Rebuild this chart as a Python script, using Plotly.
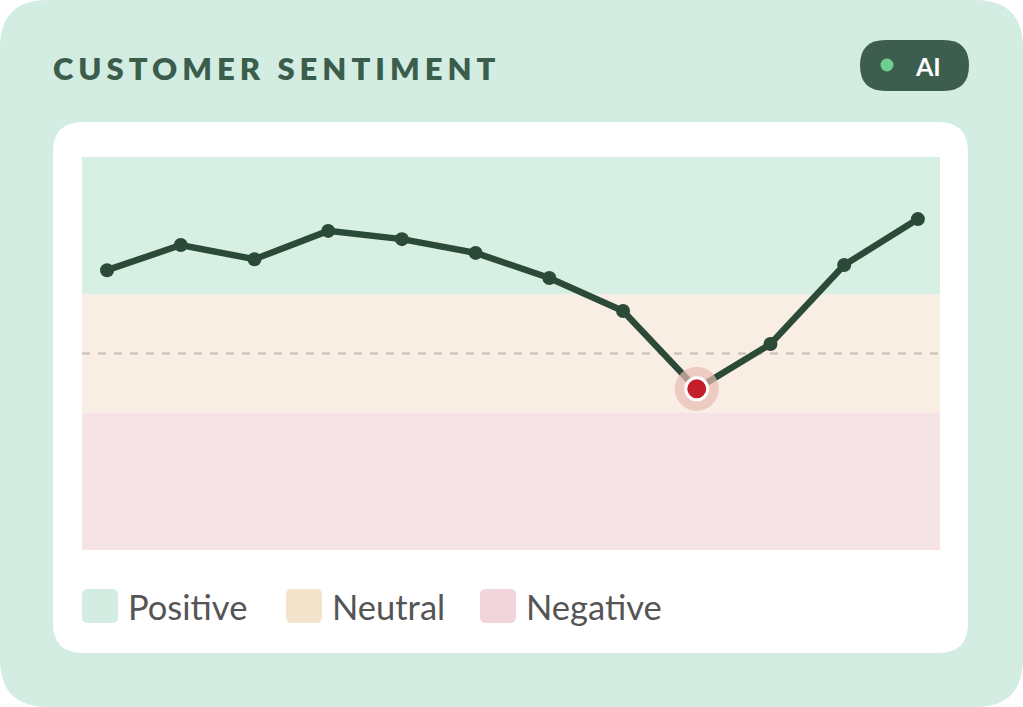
import plotly.graph_objects as go

# ---- data ----
periods = list(range(12))
sentiment = [71.2, 77.6, 74.0, 81.2, 79.1, 75.6, 69.2, 60.8, 41.0, 52.4, 72.5, 84.2]
highlight_index = 8
band_names = ["Positive", "Neutral", "Negative"]
band_limits = [(65, 100), (35, 65), (0, 35)]
baseline = 50
title_text = "CUSTOMER SENTIMENT"
badge_text = "AI"

# ---- styles ----
W, H = 1023, 707
L, R, T, B = 82, 940, 157, 550
band_fill = ["#d8f0e3", "#f8eee3", "#f5e3e5"]
legend_fill = ["#d3ede3", "#f3e4cc", "#f2d4db"]
line_col = "#2b4a38"


def px(x):
    return (x - L) / (R - L)


def py(y):
    return (B - y) / (B - T)


def rrect(x0, y0, x1, y1, r):
    pts = [
        ("M", x0 + r, y0), ("L", x1 - r, y0), ("Q", x1, y0, x1, y0 + r),
        ("L", x1, y1 - r), ("Q", x1, y1, x1 - r, y1), ("L", x0 + r, y1),
        ("Q", x0, y1, x0, y1 - r), ("L", x0, y0 + r), ("Q", x0, y0, x0 + r, y0),
    ]
    out = []
    for p in pts:
        if p[0] == "Q":
            out.append(f"Q{px(p[1]):.5f},{py(p[2]):.5f} {px(p[3]):.5f},{py(p[4]):.5f}")
        else:
            out.append(f"{p[0]}{px(p[1]):.5f},{py(p[2]):.5f}")
    return " ".join(out) + " Z"


shapes = []
# outer card
shapes.append(dict(type="path", xref="paper", yref="paper", path=rrect(0, 0, W, H, 48),
                   fillcolor="#d4ede2", line=dict(width=0), layer="below"))
# inner card
shapes.append(dict(type="path", xref="paper", yref="paper", path=rrect(53, 122, 968, 653, 30),
                   fillcolor="#ffffff", line=dict(width=0), layer="below"))
# bands
for (lo, hi), col in zip(band_limits, band_fill):
    shapes.append(dict(type="rect", xref="paper", yref="y", x0=0, x1=1, y0=lo, y1=hi,
                       fillcolor=col, line=dict(width=0), layer="below"))
# baseline dashed
shapes.append(dict(type="line", xref="paper", yref="y", x0=0, x1=1, y0=baseline, y1=baseline,
                   line=dict(color="#cdc5bc", width=2.5, dash="8px,8px"), layer="below"))
# badge pill
shapes.append(dict(type="path", xref="paper", yref="paper", path=rrect(860, 40, 969, 91, 25.5),
                   fillcolor="#3d5e4e", line=dict(width=0), layer="above"))
shapes.append(dict(type="circle", xref="paper", yref="paper",
                   x0=px(880.5), x1=px(893.5), y0=py(58.5), y1=py(71.5),
                   fillcolor="#6fcf8f", line=dict(width=0), layer="above"))

annotations = [
    dict(x=px(51), y=py(68), xref="paper", yref="paper", xanchor="left", yanchor="middle",
         text=f'<span style="letter-spacing:5px">{title_text}</span>', showarrow=False,
         font=dict(family="Lato", size=31, color="#3b5d4c", weight=800)),
    dict(x=px(928), y=py(66), xref="paper", yref="paper", xanchor="center", yanchor="middle",
         text=f"<b>{badge_text}</b>", showarrow=False,
         font=dict(family="Lato", size=25, color="#ffffff")),
]

# legend (swatches + labels)
sw_x = [82, 286, 480]
for name, col, x0 in zip(band_names, legend_fill, sw_x):
    shapes.append(dict(type="path", xref="paper", yref="paper", path=rrect(x0, 589, x0 + 36, 623, 6),
                       fillcolor=col, line=dict(width=0), layer="above"))
    annotations.append(dict(x=px(x0 + 44), y=py(606), xref="paper", yref="paper",
                            xanchor="left", yanchor="middle", text=name, showarrow=False,
                            font=dict(family="Lato", size=34.5, color="#555555")))

fig = go.Figure()
fig.add_trace(go.Scatter(x=periods, y=sentiment, mode="lines+markers",
                         line=dict(color=line_col, width=6.5),
                         marker=dict(size=14, color=line_col),
                         hoverinfo="skip", showlegend=False))
fig.add_trace(go.Scatter(x=[periods[highlight_index]], y=[sentiment[highlight_index]], mode="markers",
                         marker=dict(size=44, color="rgba(234,188,180,0.7)"),
                         hoverinfo="skip", showlegend=False))
fig.add_trace(go.Scatter(x=[periods[highlight_index]], y=[sentiment[highlight_index]], mode="markers",
                         marker=dict(size=22, color="#c41e2a", line=dict(color="#ffffff", width=3)),
                         hoverinfo="skip", showlegend=False))

fig.update_layout(
    width=W, height=H,
    margin=dict(l=L, r=W - R, t=T, b=H - B, pad=0),
    paper_bgcolor="#ffffff", plot_bgcolor="rgba(0,0,0,0)",
    shapes=shapes, annotations=annotations,
    xaxis=dict(range=[-0.34, 11.30], visible=False, fixedrange=True),
    yaxis=dict(range=[0, 100], visible=False, fixedrange=True),
    showlegend=False,
)

fig.write_html("out.html", config={"displayModeBar": False})
